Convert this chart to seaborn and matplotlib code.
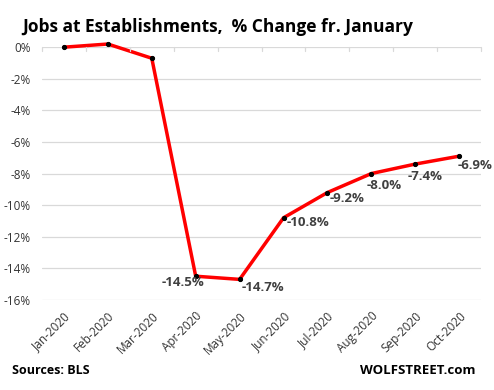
import matplotlib
matplotlib.use("Agg")
import matplotlib.pyplot as plt
import seaborn as sns
import pandas as pd
import numpy as np

months = ["Jan-2020", "Feb-2020", "Mar-2020", "Apr-2020", "May-2020",
          "Jun-2020", "Jul-2020", "Aug-2020", "Sep-2020", "Oct-2020"]
values = [0.0, 0.2, -0.7, -14.5, -14.7, -10.8, -9.2, -8.0, -7.4, -6.9]
labels = ["", "", "", "-14.5%", "-14.7%", "-10.8%", "-9.2%", "-8.0%", "-7.4%", "-6.9%"]
yticks = [0, -2, -4, -6, -8, -10, -12, -14, -16]

sns.set_style("white")
plt.rcParams['font.family'] = ['Open Sans', 'DejaVu Sans']

df = pd.DataFrame({"month": months, "value": values})
fig = plt.figure(figsize=(4.94, 3.9), dpi=100)
ax = fig.add_axes([0.085, 0.231, 0.889, 0.648])

sns.lineplot(data=df, x="month", y="value", ax=ax, color="#ff0000", linewidth=2.5,
             marker="o", markersize=3, markerfacecolor="black", markeredgecolor="black",
             sort=False)

ax.set_xlim(-0.5, len(months) - 0.5)
ax.set_ylim(-16, 0)
ax.set_yticks(yticks)
ax.set_yticklabels([f"{t}%" for t in yticks], fontsize=8.5, color="#333333")
ax.set_xticks(range(len(months)))
ax.set_xticklabels(months, rotation=45, ha="right", rotation_mode="anchor", fontsize=8.5, color="#333333")
ax.tick_params(axis="y", length=0, pad=8)
ax.tick_params(axis="x", length=0, pad=7)
ax.set_xlabel("")
ax.set_ylabel("")
ax.grid(axis="y", color="#d9d9d9", linewidth=0.9)
ax.set_axisbelow(True)
for s in ax.spines.values():
    s.set_visible(False)
for line in ax.lines:
    line.set_clip_on(False)

# category boundary ticks along 0% line
for b in np.arange(-0.5, len(months), 1.0):
    ax.plot([b, b], [0, -0.25], color="#d9d9d9", linewidth=0.9, clip_on=False)

offsets = {3: (-9.4, -4.8, "center"), 4: (1.6, -5.5, "left"), 5: (2.4, -3.4, "left"),
           6: (1.6, -4.6, "left"), 7: (-3.6, -8.4, "left"), 8: (-5.8, -9.0, "left"),
           9: (-1.4, -7.0, "left")}
for i, lab in enumerate(labels):
    if not lab:
        continue
    dx, dy, ha = offsets[i]
    ax.annotate(lab, (i, values[i]), xytext=(dx, dy), textcoords="offset points",
                ha=ha, va="center", fontsize=9.5, fontweight="bold", color="#404040")

fig.text(0.045, 0.932, "Jobs at Establishments,  % Change fr. January", fontsize=12.5,
         fontweight="bold", color="black", va="center")
fig.text(0.024, 0.049, "Sources: BLS", fontsize=9, fontweight="bold", color="black", va="center")
fig.text(0.962, 0.049, "WOLFSTREET.com", fontsize=9.5, fontweight="bold", color="black",
         va="center", ha="right")

fig.savefig("out.png", dpi=100, facecolor="white")
